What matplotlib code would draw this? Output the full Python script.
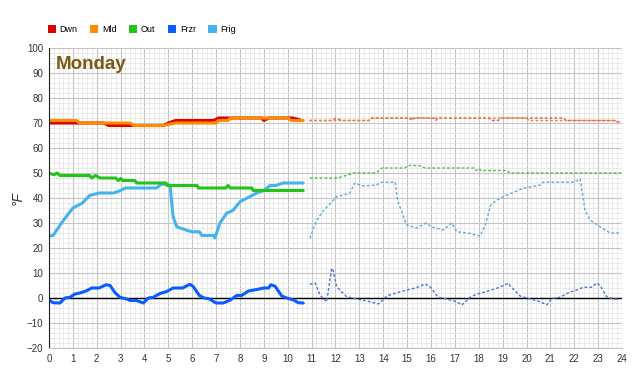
import matplotlib.pyplot as plt
from matplotlib.patches import Patch
from matplotlib.ticker import MultipleLocator

plt.rcParams['font.family'] = ['Liberation Sans', 'DejaVu Sans']

# today (solid)
dwn_x = [0, 2.3, 2.5, 4.8, 5.0, 5.3, 6.9, 7.1, 8.9, 9.0, 9.2, 10.2, 10.5]
dwn_y = [70, 70, 69, 69, 70, 71, 71, 72, 72, 71, 72, 72, 71.3]
mld_x = [0, 1.15, 1.3, 3.4, 3.55, 4.8, 5.3, 7.0, 7.1, 7.5, 7.6, 10.0, 10.15, 10.65]
mld_y = [71, 71, 70, 70, 69, 69, 70, 70, 71, 71, 72, 72, 71, 71]
out_x = [0, 0.2, 0.35, 0.46, 1.7, 1.79, 1.95, 2.14, 2.8, 2.9, 3.0, 3.1, 3.6, 3.67, 4.9, 4.95, 6.2, 6.26, 7.4, 7.5, 7.6, 8.5, 8.55, 10.65]
out_y = [50, 49.3, 50, 49, 49, 48, 49, 48, 48, 47, 47.8, 47, 47, 46, 46, 45, 45, 44, 44, 45, 44, 44, 43, 43]
frzr_x = [0, 0.17, 0.46, 0.67, 0.88, 1.09, 1.3, 1.6, 1.79, 2.1, 2.39, 2.56, 2.76, 2.97, 3.25, 3.4, 3.67, 3.95,
          4.16, 4.37, 4.65, 4.93, 5.2, 5.6, 5.9, 6.03, 6.3, 6.5, 6.7, 7.0, 7.3, 7.6, 7.86, 8.07, 8.35, 8.7,
          9.0, 9.2, 9.29, 9.47, 9.75, 9.96, 10.24, 10.45, 10.65]
frzr_y = [-0.8, -1.9, -2, 0, 0.3, 1.6, 2, 3, 4, 4, 5.3, 5, 2.2, 0.3, -0.4, -1, -1, -2,
          0, 0.3, 1.8, 2.6, 4, 4, 5.5, 4.7, 1, 0, -0.3, -2, -2, -0.8, 1, 1, 2.8, 3.4,
          4, 4, 5.3, 4.7, 0.8, 0, -0.8, -1.9, -2]
frig_x = [0, 0.17, 0.6, 1.0, 1.4, 1.7, 2.1, 2.7, 3.0, 3.2, 4.5, 4.7, 4.95, 5.07, 5.2, 5.35, 5.8, 6.0, 6.3,
          6.4, 6.9, 6.95, 7.16, 7.45, 7.7, 8.0, 8.4, 8.7, 9.0, 9.26, 9.5, 9.8, 10.65]
frig_y = [24.8, 25, 31, 36, 38, 41, 42, 42, 43, 44, 44, 45.5, 45.5, 45, 32.5, 28.5, 27, 26.5, 26.5,
          25, 25, 24, 30, 34, 35, 38.5, 40.5, 42, 43, 45, 45, 46, 46]

# yesterday (dotted)
dwn_f_x = [10.9, 11.8, 12.0, 12.3, 12.5, 13.4, 13.5, 15.1, 15.2, 15.3, 16.1, 16.2, 16.3, 18.4, 18.55, 18.8,
           18.95, 21.55, 21.65, 23.7, 23.9]
dwn_f_y = [71, 71, 71.8, 71, 71, 71, 72, 72, 71, 72, 72, 71, 72, 72, 71, 71, 72, 72, 71, 71, 70]
mld_f_x = [10.9, 13.4, 13.5, 20.0, 20.1, 23.7, 23.9]
mld_f_y = [71, 71, 72, 72, 71, 71, 70.4]
out_f_x = [10.93, 12.1, 12.3, 12.75, 13.7, 13.94, 14.9, 15.05, 15.5, 15.75, 17.8, 17.9, 18.0, 18.1, 19.17,
           19.3, 24]
out_f_y = [48, 48, 48.6, 50, 50, 52, 52, 53, 53, 52, 52, 51, 51.8, 51, 51, 50, 50]
frzr_f_x = [10.93, 11.15, 11.35, 11.63, 11.84, 11.9, 12.05, 12.47, 12.9, 13.45, 13.8, 14.15, 14.57, 14.98,
            15.4, 15.75, 15.96, 16.3, 16.66, 17.08, 17.29, 17.64, 17.9, 18.3, 18.76, 19.24, 19.3, 19.73,
            20.15, 20.57, 20.85, 21.06, 21.4, 21.76, 22.1, 22.38, 22.73, 22.94, 23.08, 23.36, 23.64, 23.9]
frzr_f_y = [5.5, 6, 1.2, -1.5, 11.9, 11, 4.5, 0.5, -0.4, -1.5, -2.4, 0.8, 2.1, 3.2,
            4.1, 5.6, 4.5, 0.3, -0.4, -1.5, -2.8, 0.3, 1.5, 2.5, 3.9, 5.9, 5, 0.8,
            -0.4, -1.5, -2.8, -0.2, 0.3, 2.1, 3.2, 4.3, 4.3, 6, 5, 0.5, -0.4, -0.4]
frig_f_x = [10.93, 11.2, 11.5, 12.05, 12.6, 12.8, 13.17, 13.7, 13.94, 14.5, 14.6, 14.98, 15.4, 15.8, 16.0,
            16.5, 16.87, 17.08, 17.6, 18.05, 18.27, 18.5, 18.76, 19.17, 19.87, 20.57, 20.7, 21.97, 22.25,
            22.45, 22.66, 23.08, 23.5, 23.9]
frig_f_y = [23.9, 31, 35, 40.5, 41.9, 45.9, 44.8, 45.2, 46.3, 46.3, 39, 29.2, 28, 30, 28.5,
            27.2, 30, 26.5, 25.9, 24.8, 29, 37.2, 39.2, 41.2, 43.9, 45.2, 46.3, 46.3, 47.6,
            35, 31.2, 28.5, 26, 26]

names = ['Dwn', 'Mld', 'Out', 'Frzr', 'Frig']
colors = ['#e00000', '#ff8c00', '#22c41a', '#0a5cff', '#45b4ee']

fig = plt.figure(figsize=(6.41, 3.82), dpi=100)
ax = fig.add_axes([0.0764, 0.089, 0.894, 0.7853])

ax.set_xlim(0, 24)
ax.set_ylim(-20, 100)
ax.xaxis.set_major_locator(MultipleLocator(1))
ax.yaxis.set_major_locator(MultipleLocator(10))
ax.xaxis.set_minor_locator(MultipleLocator(0.2))
ax.yaxis.set_minor_locator(MultipleLocator(2))
ax.grid(which='major', color='#c4c4c4', linewidth=0.8)
ax.grid(which='minor', color='#e2e2e2', linewidth=0.5)
ax.set_axisbelow(True)
ax.tick_params(which='both', length=0, labelsize=7, labelcolor='#333333', pad=4)
for s in ['top', 'right']:
    ax.spines[s].set_visible(False)
ax.spines['left'].set_color('#222222')
ax.spines['bottom'].set_color('#c4c4c4')
ax.axhline(0, color='black', linewidth=1.0)

dash = dict(linewidth=1.0, linestyle=(0, (2, 1.5)))
ax.plot(frig_f_x, frig_f_y, color='#5aaed0', **dash)
ax.plot(frzr_f_x, frzr_f_y, color='#4a72d6', **dash)
ax.plot(out_f_x, out_f_y, color='#4cbc44', **dash)
ax.plot(dwn_f_x, dwn_f_y, color='#e8506a', **dash)
ax.plot(mld_f_x, mld_f_y, color='#f08a20', **dash)

lw = 2.2
for xs, ys, c in [(frig_x, frig_y, colors[4]), (frzr_x, frzr_y, colors[3]), (out_x, out_y, colors[2]),
                  (dwn_x, dwn_y, colors[0]), (mld_x, mld_y, colors[1])]:
    ax.plot(xs, ys, color=c, linewidth=lw, solid_joinstyle='round', solid_capstyle='round')

ax.text(0.3, 93.6, 'Monday', fontsize=13.5, fontweight='bold', color='#7a5a12', va='center')
ax.set_ylabel('°F', fontsize=10, style='italic', color='#333333')
ax.yaxis.set_label_coords(-0.042, 0.5)

handles = [Patch(facecolor=c, edgecolor='none') for c in colors]
fig.legend(handles, names, loc='upper left', bbox_to_anchor=(0.062, 0.955), ncol=5, frameon=False,
           fontsize=6.5, handlelength=0.9, handleheight=0.9, handletextpad=0.4, columnspacing=1.4)

fig.savefig('out.png', dpi=100)
